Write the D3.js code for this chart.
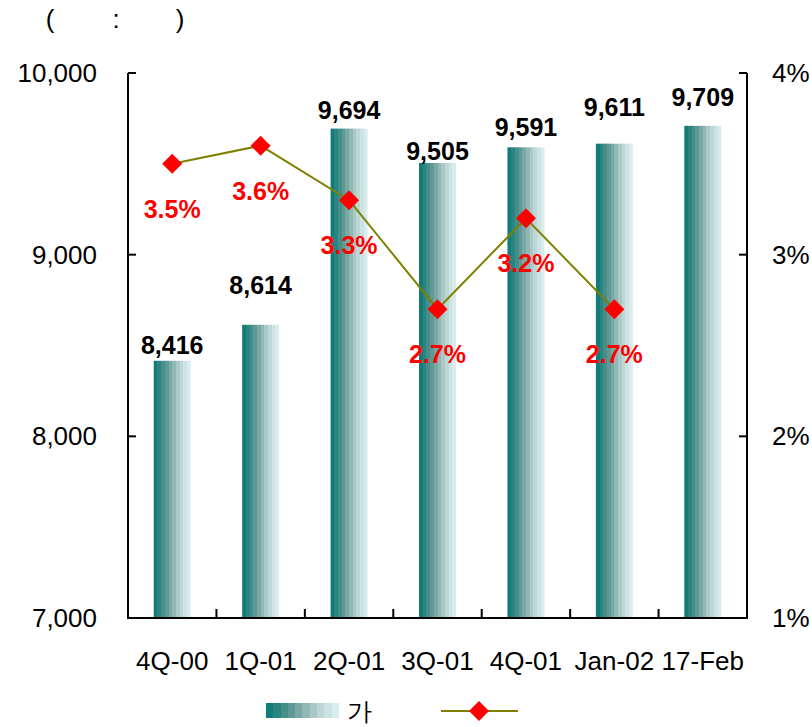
<!DOCTYPE html>
<html><head><meta charset="utf-8">
<script src="https://cdn.jsdelivr.net/npm/d3@7"></script>
<style>body{margin:0;background:#fff}svg{display:block}text{font-family:"Liberation Sans",Arial,sans-serif}</style>
</head><body><svg id="c" width="812" height="727"></svg>
<script>
const categories = ["4Q-00","1Q-01","2Q-01","3Q-01","4Q-01","Jan-02","17-Feb"];
const barValues = [8416,8614,9694,9505,9591,9611,9709];
const barLabels = ["8,416","8,614","9,694","9,505","9,591","9,611","9,709"];
const rateValues = [3.5,3.6,3.3,2.7,3.2,2.7,null];
const rateLabels = ["3.5%","3.6%","3.3%","2.7%","3.2%","2.7%",""];
const leftTicks = [7000,8000,9000,10000];
const rightTicks = [1,2,3,4];
// label gaps above bar tops (layout only)
const barLabelGap = [7,31,10,3,11,28,20];

const svg = d3.select("#c");
const L=128, R=747, T=73, B=618;
const FS = 25, FR = 26;
const x = d3.scaleBand().domain(categories).range([L,R]);
const yL = d3.scaleLinear().domain([7000,10000]).range([B,T]);
const yR = d3.scaleLinear().domain([1,4]).range([B,T]);

const defs = svg.append("defs");
const g = defs.append("linearGradient").attr("id","bg").attr("x1","0").attr("x2","1").attr("y1","0").attr("y2","0");
const bands = ["#127d78","#2a8580","#458e8a","#5f9995","#79a8a5","#92b8b6","#a9c8c6","#bdd7d6","#cde3e2","#d8ecec"];
bands.forEach((c,i)=>{
  g.append("stop").attr("offset",(i/bands.length)).attr("stop-color",c);
  g.append("stop").attr("offset",((i+1)/bands.length)).attr("stop-color",c);
});

const bw = 37;
svg.selectAll("rect.bar").data(categories).enter().append("rect")
  .attr("x",d=>x(d)+x.bandwidth()/2-bw/2).attr("width",bw)
  .attr("y",(d,i)=>yL(barValues[i])).attr("height",(d,i)=>B-yL(barValues[i]))
  .attr("fill","url(#bg)");

svg.selectAll("text.bl").data(categories).enter().append("text")
  .attr("x",d=>x(d)+x.bandwidth()/2).attr("y",(d,i)=>yL(barValues[i])-barLabelGap[i])
  .attr("text-anchor","middle").attr("font-size",FS).attr("font-weight","bold").attr("fill","#000")
  .text((d,i)=>barLabels[i]);

const ax = svg.append("g").attr("stroke","#000").attr("stroke-width",2).attr("fill","none");
ax.append("line").attr("x1",L).attr("x2",L).attr("y1",T).attr("y2",B);
ax.append("line").attr("x1",R).attr("x2",R).attr("y1",T).attr("y2",B);
ax.append("line").attr("x1",L-1).attr("x2",R+1).attr("y1",B).attr("y2",B);
leftTicks.forEach(v=>ax.append("line").attr("x1",L).attr("x2",L+8).attr("y1",yL(v)).attr("y2",yL(v)));
rightTicks.forEach(v=>ax.append("line").attr("x1",R-8).attr("x2",R).attr("y1",yR(v)).attr("y2",yR(v)));
categories.slice(1).forEach(c=>ax.append("line").attr("x1",x(c)).attr("x2",x(c)).attr("y1",B).attr("y2",B-9));

svg.selectAll("text.lt").data(leftTicks).enter().append("text")
  .attr("x",97).attr("y",d=>yL(d)+9).attr("text-anchor","end").attr("font-size",FR)
  .text(d=>d3.format(",")(d));
svg.selectAll("text.rt").data(rightTicks).enter().append("text")
  .attr("x",772).attr("y",d=>yR(d)+9).attr("text-anchor","start").attr("font-size",FR)
  .text(d=>d+"%");
svg.selectAll("text.xt").data(categories).enter().append("text")
  .attr("x",d=>x(d)+x.bandwidth()/2).attr("y",670).attr("text-anchor","middle").attr("font-size",FR)
  .text(d=>d);

const pts = categories.map((c,i)=>({c,v:rateValues[i],l:rateLabels[i]})).filter(d=>d.v!=null);
const line = d3.line().x(d=>x(d.c)+x.bandwidth()/2).y(d=>yR(d.v));
svg.append("path").datum(pts).attr("d",line).attr("fill","none").attr("stroke","#808000").attr("stroke-width",2);
const dia = d3.symbol().type(d3.symbolSquare).size(200);
svg.selectAll("path.m").data(pts).enter().append("path")
  .attr("d",dia).attr("fill","#ff0000")
  .attr("transform",d=>`translate(${x(d.c)+x.bandwidth()/2},${yR(d.v)}) rotate(45)`);
svg.selectAll("text.rl").data(pts).enter().append("text")
  .attr("x",d=>x(d.c)+x.bandwidth()/2).attr("y",d=>yR(d.v)+54)
  .attr("text-anchor","middle").attr("font-size",FS).attr("font-weight","bold").attr("fill","#ff0000")
  .text(d=>d.l);

[["(",50],[":",116],[")",180]].forEach(([t,xx])=>svg.append("text").attr("x",xx).attr("y",28).attr("text-anchor","middle").attr("font-size",FR).text(t));

svg.append("rect").attr("x",266).attr("y",703).attr("width",73).attr("height",15).attr("fill","url(#bg)");
svg.append("text").attr("x",347).attr("y",720).attr("font-size",25).attr("font-family","'Noto Sans CJK KR',sans-serif").text("가");
svg.append("line").attr("x1",441).attr("x2",518).attr("y1",711).attr("y2",711).attr("stroke","#808000").attr("stroke-width",2);
svg.append("path").attr("d",dia).attr("fill","#ff0000").attr("transform","translate(479,711) rotate(45)");
</script></body></html>
